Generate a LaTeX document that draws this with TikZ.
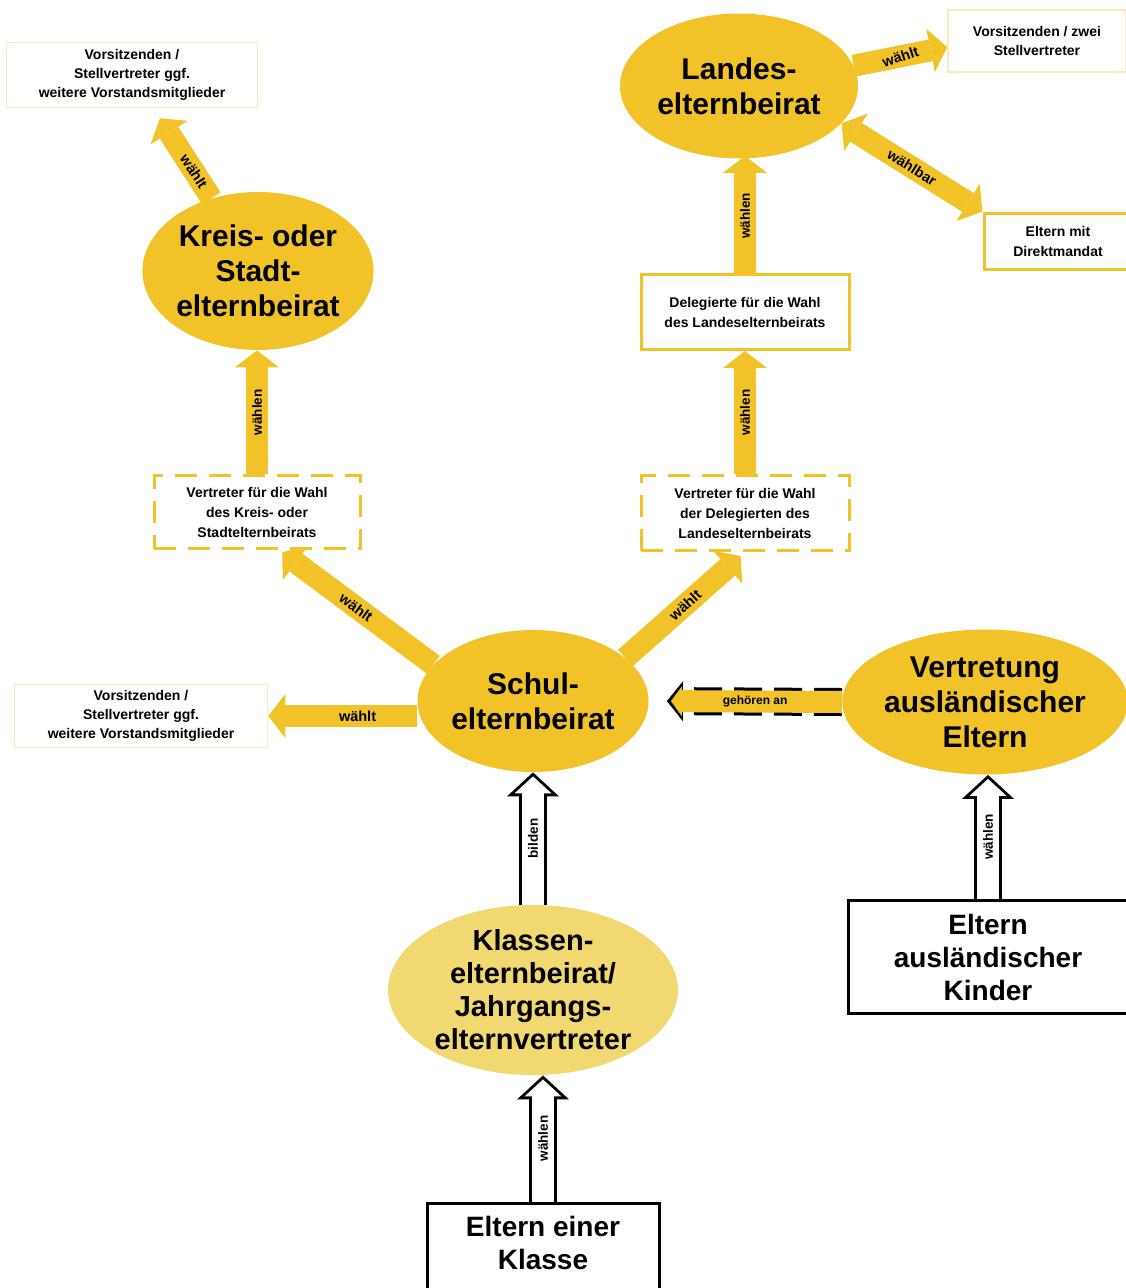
\documentclass[tikz,border=0pt]{standalone}
\usepackage{fontspec}
\setmainfont{Liberation Sans}
\usetikzlibrary{shapes.geometric,arrows.meta,backgrounds}

\definecolor{gold}{RGB}{241,195,40}
\definecolor{palegold}{RGB}{242,216,112}
\definecolor{faintline}{RGB}{244,236,190}

\tikzset{every picture/.style={line width=0.75pt}}
\tikzset{
  bigell/.style={ellipse, fill=gold, inner sep=0pt, align=center, font=\bfseries\fontsize{30}{35}\selectfont},
  paleell/.style={bigell, fill=palegold, font=\bfseries\fontsize{29}{33}\selectfont},
  faintbox/.style={draw=faintline, line width=1.5pt, fill=white, align=center, inner sep=0pt, font=\bfseries\fontsize{14}{19}\selectfont},
  goldbox/.style={faintbox, draw=gold, line width=3pt, font=\bfseries\fontsize{14}{20}\selectfont},
  dashbox/.style={goldbox, dash pattern=on 22pt off 12pt},
  blackbox/.style={draw=black, line width=3pt, fill=white, align=center, inner sep=0pt, font=\bfseries\fontsize{28}{33}\selectfont},
  goldarrow/.style={draw=gold, line width=22pt, -{Triangle[length=17pt,width=44pt,line width=0pt]}},
  goldboth/.style={draw=gold, line width=22pt, {Triangle[length=17pt,width=44pt,line width=0pt]}-{Triangle[length=17pt,width=44pt,line width=0pt]}},
  hollow/.style={draw=black, line width=28pt, -{Triangle[length=24pt,width=52pt,line width=0pt]},
    postaction={draw=white, line width=22pt, shorten >=4pt, -{Triangle[length=17pt,width=37pt,line width=0pt]}}},
  dashgold/.style={draw=black, line width=28pt, dash pattern=on 28pt off 12pt, -{Triangle[length=16pt,width=40pt,line width=0pt]},
    postaction={draw=gold, solid, line width=22pt, shorten >=22pt, -{Triangle[length=11pt,width=30pt,line width=0pt]}}},
  lbl/.style={midway, text=black, inner sep=0pt, font=\bfseries\fontsize{14.5}{14.5}\selectfont},
  vlbl/.style={lbl, rotate=90, font=\bfseries\fontsize{13.5}{13.5}\selectfont},
}

\begin{document}
\begin{tikzpicture}[x=1pt,y=1pt,yscale=-1]
\useasboundingbox (0,0) rectangle (1125,1288);

%Shape: Ellipse [Landeselternbeirat]
\node[bigell, minimum width=238, minimum height=145] (landes) at (739,86) {Landes-\\elternbeirat};
% Text Node
\node[faintbox, minimum width=178, minimum height=62] (lvors) at (1037,41) {Vorsitzenden / zwei\\Stellvertreter};
% Text Node
\node[goldbox, minimum width=148, minimum height=56] (direkt) at (1058,241) {Eltern mit\\Direktmandat};
% Text Node
\node[goldbox, minimum width=208, minimum height=75] (deleg) at (745,312) {Delegierte für die Wahl\\des Landeselternbeirats};
% Text Node
\node[dashbox, minimum width=208, minimum height=75] (vdeleg) at (745,513) {Vertreter für die Wahl\\der Delegierten des\\Landeselternbeirats};

%Shape: Ellipse [Kreis]
\node[bigell, minimum width=190, minimum height=158] (kreis) at (258,271) {Kreis- oder\\Stadt-\\elternbeirat};
% Text Node
\node[faintbox, minimum width=251, minimum height=65] (kvors) at (132,75) {Vorsitzenden /\\Stellvertreter ggf.\\weitere Vorstandsmitglieder};
% Text Node
\node[dashbox, minimum width=206, minimum height=73] (vkreis) at (257,512) {Vertreter für die Wahl\\des Kreis- oder\\Stadtelternbeirats};

%Shape: Ellipse [Schule]
\node[bigell, minimum width=223, minimum height=142] (schul) at (533,701) {Schul-\\elternbeirat};
% Text Node
\node[faintbox, minimum width=253, minimum height=63] (svors) at (141,716) {Vorsitzenden /\\Stellvertreter ggf.\\weitere Vorstandsmitglieder};

%Shape: Ellipse [auslaendische Eltern]
\node[bigell, minimum width=240, minimum height=145] (auslv) at (985,702) {Vertretung\\ausländischer\\Eltern};

%Shape: Ellipse [Klasse]
\node[paleell, minimum width=290, minimum height=166] (klasse) at (533,990) {Klassen-\\elternbeirat/\\Jahrgangs-\\elternvertreter};

% Text Node
\node[blackbox, minimum width=232, minimum height=100] (eklasse) at (543,1253) {Eltern einer\\Klasse\\[-13pt]};
% Text Node
\node[blackbox, minimum width=280, minimum height=113] (ekinder) at (988,957) {Eltern\\ausländischer\\Kinder};

\begin{pgfonlayer}{background}
%Arrows
\draw[goldarrow] (landes.10) -- ([yshift=6pt]lvors.west) node[lbl, rotate=18] {wählt};
\draw[goldboth] (landes.-20) -- (direkt.north west) node[lbl, rotate=-32] {wählbar};
\draw[goldarrow, shorten >=-3pt] (deleg.north) -- (deleg.north |- landes.south) node[vlbl] {wählen};
\draw[goldarrow] (vdeleg.north) -- (deleg.south) node[vlbl] {wählen};
\draw[goldarrow, shorten >=12pt] (kreis) -- (kvors) node[lbl, pos=0.3, rotate=-57] {wählt};
\draw[goldarrow] (vkreis.north) -- (vkreis.north |- kreis.south) node[vlbl] {wählen};
\draw[goldarrow, shorten >=4pt] (schul.160) -- ([xshift=22pt]vkreis.south) node[lbl, pos=0.5, rotate=-36] {wählt};
\draw[goldarrow, shorten >=6pt] (schul.25) -- (vdeleg.south) node[lbl, pos=0.5, rotate=42] {wählt};
\draw[goldarrow] (svors.east -| schul.west) -- (svors.east) node[lbl, pos=0.4] {wählt};
\draw[dashgold, shorten >=18pt] (auslv.west) -- (schul.east) node[lbl, pos=0.45, font=\bfseries\fontsize{12}{12}\selectfont] {gehören an};
\draw[hollow] (klasse.north) -- (schul.south) node[vlbl] {bilden};
\draw[hollow] (eklasse.north) -- (eklasse.north |- klasse.south) node[vlbl] {wählen};
\draw[hollow] (ekinder.north) -- (ekinder.north |- auslv.south) node[vlbl] {wählen};
\end{pgfonlayer}

\end{tikzpicture}
\end{document}
